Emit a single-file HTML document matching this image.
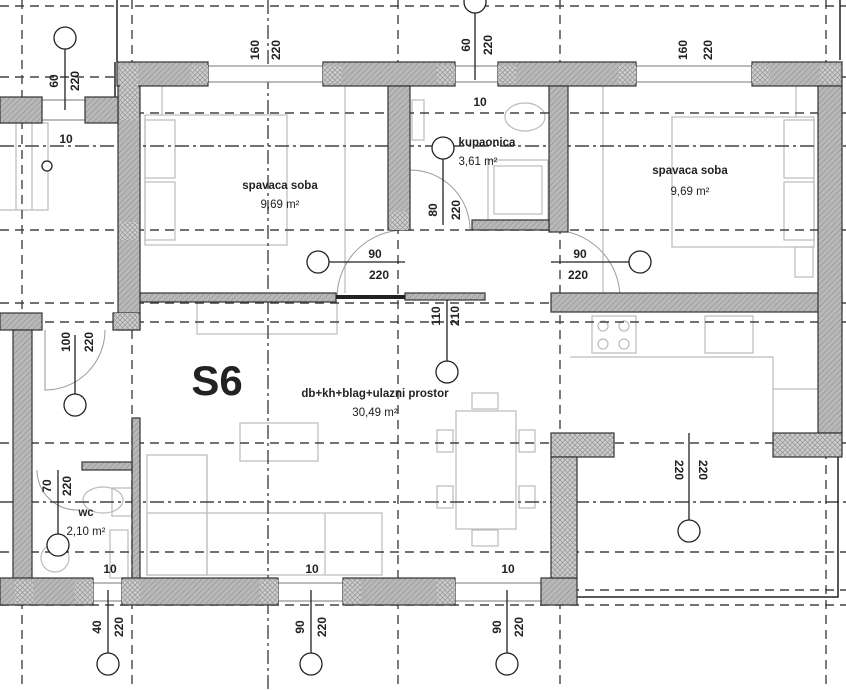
<!DOCTYPE html>
<html><head><meta charset="utf-8"><style>
html,body{margin:0;padding:0;background:#fff}
svg{display:block}
text{font-family:"Liberation Sans",sans-serif;fill:#222}
</style></head><body>
<svg width="846" height="690" viewBox="0 0 846 690" xmlns="http://www.w3.org/2000/svg">
<defs>
<pattern id="h" width="4" height="4" patternUnits="userSpaceOnUse" patternTransform="rotate(45)">
<rect width="4" height="4" fill="#b8b8b8"/><line x1="0" y1="0" x2="0" y2="4" stroke="#888" stroke-width="1"/></pattern>
<pattern id="x" width="5" height="5" patternUnits="userSpaceOnUse">
<rect width="5" height="5" fill="#d0d0d0"/><path d="M0 0L5 5M5 0L0 5" stroke="#999" stroke-width="0.8"/></pattern>
</defs>
<g fill="none" stroke="#bbb" stroke-width="1.2">
<rect x="145" y="115" width="142" height="130"/><rect x="145" y="120" width="30" height="58"/><rect x="145" y="182" width="30" height="58"/>
<rect x="672" y="117" width="142" height="130"/><rect x="784" y="120" width="30" height="58"/><rect x="784" y="182" width="30" height="58"/>
<rect x="795" y="247" width="18" height="30"/>
<line x1="162" y1="86" x2="162" y2="115"/><line x1="345" y1="86" x2="345" y2="293"/>
<line x1="603" y1="86" x2="603" y2="293"/><line x1="796" y1="86" x2="796" y2="117"/>
<rect x="488" y="160" width="60" height="60"/><rect x="494" y="166" width="48" height="48"/>
<ellipse cx="525" cy="117" rx="20" ry="14"/><rect x="412" y="100" width="12" height="40"/>
<rect x="197" y="302" width="140" height="32"/>
<rect x="592" y="316" width="44" height="37"/><circle cx="603" cy="326" r="5"/><circle cx="624" cy="326" r="5"/><circle cx="603" cy="344" r="5"/><circle cx="624" cy="344" r="5"/>
<rect x="705" y="316" width="48" height="37"/>
<path d="M570 357H773V433M773 389H818"/>
<rect x="240" y="423" width="78" height="38"/>
<rect x="147" y="455" width="60" height="120"/><rect x="147" y="513" width="235" height="62"/><line x1="207" y1="455" x2="207" y2="575"/><line x1="325" y1="513" x2="325" y2="575"/>
<rect x="456" y="411" width="60" height="118"/>
<rect x="472" y="393" width="26" height="16"/><rect x="472" y="530" width="26" height="16"/>
<rect x="437" y="430" width="16" height="22"/><rect x="437" y="486" width="16" height="22"/><rect x="519" y="430" width="16" height="22"/><rect x="519" y="486" width="16" height="22"/>
<ellipse cx="103" cy="500" rx="20" ry="13"/><rect x="112" y="488" width="20" height="28"/>
<rect x="110" y="530" width="18" height="48"/><circle cx="55" cy="558" r="14"/>
<path d="M0 123H48V210H0M16 123V210M32 123V210"/>
</g>
<g fill="none" stroke="#999" stroke-width="1">
<path d="M405 230A68 68 0 0 0 337 297"/><path d="M552 230A68 68 0 0 1 620 297"/>
<path d="M410 170A60 60 0 0 1 470 230"/><path d="M45 330V390A60 60 0 0 0 105 330"/>
<path d="M37 470A40 40 0 0 0 78 510"/>
</g>
<g stroke="#444" stroke-width="1.4" stroke-dasharray="9,6" fill="none">
<line x1="22" y1="0" x2="22" y2="690"/><line x1="132" y1="0" x2="132" y2="690"/>
<line x1="268" y1="0" x2="268" y2="690" stroke-dasharray="14,4,3,4"/>
<line x1="398" y1="0" x2="398" y2="690"/><line x1="560" y1="0" x2="560" y2="690"/>
<line x1="826" y1="0" x2="826" y2="690"/>
<line x1="0" y1="77" x2="846" y2="77"/><line x1="0" y1="113" x2="846" y2="113"/>
<line x1="0" y1="146" x2="846" y2="146" stroke-dasharray="14,4,3,4"/>
<line x1="0" y1="230" x2="846" y2="230"/><line x1="0" y1="303" x2="846" y2="303"/>
<line x1="0" y1="322" x2="846" y2="322"/><line x1="0" y1="443" x2="846" y2="443"/>
<line x1="0" y1="502" x2="846" y2="502" stroke-dasharray="14,4,3,4"/>
<line x1="0" y1="552" x2="846" y2="552"/><line x1="0" y1="590" x2="846" y2="590"/>
<line x1="0" y1="605" x2="846" y2="605"/><line x1="0" y1="6" x2="846" y2="6"/>
</g>
<g stroke="#222" stroke-width="1.5" fill="none">
<path d="M117 0V62M115 62V97"/><line x1="840" y1="0" x2="840" y2="60"/>
<path d="M577 597H838V457"/>
</g>
<g fill="#fff" stroke="#777" stroke-width="1">
<rect x="208" y="66" width="115" height="16"/><rect x="455" y="66" width="43" height="16"/><rect x="636" y="66" width="116" height="16"/>
<rect x="42" y="100" width="43" height="20"/>
<rect x="93" y="583" width="29" height="18"/><rect x="278" y="583" width="65" height="18"/><rect x="455" y="583" width="86" height="18"/>
</g>
<g fill="url(#h)" stroke="#333" stroke-width="1.2">
<rect x="117" y="62" width="91" height="24"/><rect x="323" y="62" width="132" height="24"/>
<rect x="498" y="62" width="138" height="24"/><rect x="752" y="62" width="90" height="24"/>
<rect x="118" y="86" width="22" height="244"/>
<rect x="0" y="97" width="42" height="26"/><rect x="85" y="97" width="33" height="26"/>
<rect x="140" y="293" width="196" height="9"/>
<rect x="388" y="86" width="22" height="144"/><rect x="549" y="86" width="19" height="146"/>
<rect x="472" y="220" width="77" height="10"/>
<rect x="551" y="293" width="291" height="19"/>
<rect x="405" y="293" width="80" height="7"/>
<rect x="818" y="86" width="24" height="347"/>
<rect x="0" y="313" width="42" height="17"/><rect x="113" y="313" width="27" height="17"/>
<rect x="13" y="330" width="19" height="250"/>
<rect x="132" y="418" width="8" height="162"/><rect x="82" y="462" width="50" height="8"/>
<rect x="0" y="578" width="93" height="27"/><rect x="122" y="578" width="156" height="27"/>
<rect x="343" y="578" width="112" height="27"/><rect x="541" y="578" width="36" height="27"/>
</g>
<g fill="url(#x)" stroke="#333" stroke-width="1.2">
<rect x="551" y="433" width="63" height="24"/><rect x="551" y="457" width="26" height="121"/>
<rect x="773" y="433" width="69" height="24"/>
<rect x="190" y="65" width="18" height="18" stroke="none"/><rect x="323" y="65" width="18" height="18" stroke="none"/>
<rect x="437" y="65" width="18" height="18" stroke="none"/><rect x="498" y="65" width="18" height="18" stroke="none"/>
<rect x="618" y="65" width="18" height="18" stroke="none"/><rect x="752" y="65" width="18" height="18" stroke="none"/>
<rect x="120" y="65" width="18" height="55" stroke="none"/><rect x="120" y="222" width="18" height="18" stroke="none"/>
<rect x="115" y="313" width="23" height="16" stroke="none"/><rect x="390" y="212" width="18" height="18" stroke="none"/>
<rect x="820" y="65" width="20" height="18" stroke="none"/>
<rect x="15" y="580" width="18" height="23" stroke="none"/><rect x="75" y="580" width="18" height="23" stroke="none"/>
<rect x="122" y="580" width="18" height="23" stroke="none"/><rect x="260" y="580" width="18" height="23" stroke="none"/>
<rect x="343" y="580" width="18" height="23" stroke="none"/><rect x="437" y="580" width="18" height="23" stroke="none"/>
</g>
<line x1="336" y1="297" x2="405" y2="297" stroke="#222" stroke-width="4"/>
<g stroke="#222" stroke-width="1.3" fill="#fff">
<path d="M65 49V110M475 10V80M329 262H405M551 262H629M443 159V225M447 300V345M75 394V335M58 534V470M108 653V590M311 653V590M507 653V590M689 520V433M447 361V335"/>
<circle cx="65" cy="38" r="11"/><circle cx="475" cy="2" r="11"/><circle cx="318" cy="262" r="11"/>
<circle cx="640" cy="262" r="11"/><circle cx="443" cy="148" r="11"/><circle cx="75" cy="405" r="11"/>
<circle cx="58" cy="545" r="11"/><circle cx="108" cy="664" r="11"/><circle cx="311" cy="664" r="11"/>
<circle cx="507" cy="664" r="11"/><circle cx="689" cy="531" r="11"/><circle cx="447" cy="372" r="11"/>
<circle cx="47" cy="166" r="5"/>
</g>
<g font-size="12" font-weight="bold">
<text x="66" y="143" text-anchor="middle">10</text><text x="480" y="106" text-anchor="middle">10</text>
<text x="375" y="258" text-anchor="middle">90</text><text x="379" y="279" text-anchor="middle">220</text>
<text x="580" y="258" text-anchor="middle">90</text><text x="578" y="279" text-anchor="middle">220</text>
<text x="110" y="573" text-anchor="middle">10</text><text x="312" y="573" text-anchor="middle">10</text><text x="508" y="573" text-anchor="middle">10</text>
<g text-anchor="middle">
<text transform="translate(58,81) rotate(-90)">60</text><text transform="translate(79,81) rotate(-90)">220</text>
<text transform="translate(259,50) rotate(-90)">160</text><text transform="translate(280,50) rotate(-90)">220</text>
<text transform="translate(470,45) rotate(-90)">60</text><text transform="translate(492,45) rotate(-90)">220</text>
<text transform="translate(687,50) rotate(-90)">160</text><text transform="translate(712,50) rotate(-90)">220</text>
<text transform="translate(70,342) rotate(-90)">100</text><text transform="translate(93,342) rotate(-90)">220</text>
<text transform="translate(437,210) rotate(-90)">80</text><text transform="translate(460,210) rotate(-90)">220</text>
<text transform="translate(440,316) rotate(-90)">110</text><text transform="translate(459,316) rotate(-90)">210</text>
<text transform="translate(51,486) rotate(-90)">70</text><text transform="translate(71,486) rotate(-90)">220</text>
<text transform="translate(101,627) rotate(-90)">40</text><text transform="translate(123,627) rotate(-90)">220</text>
<text transform="translate(304,627) rotate(-90)">90</text><text transform="translate(326,627) rotate(-90)">220</text>
<text transform="translate(501,627) rotate(-90)">90</text><text transform="translate(523,627) rotate(-90)">220</text>
<text transform="translate(675,470) rotate(90)">220</text><text transform="translate(699,470) rotate(90)">220</text>
</g>
</g>
<g font-size="11.5" text-anchor="middle">
<text x="280" y="189" font-weight="bold" fill="#333">spavaca soba</text><text x="280" y="208" fill="#555">9,69 m²</text>
<text x="690" y="174" font-weight="bold" fill="#333">spavaca soba</text><text x="690" y="195" fill="#555">9,69 m²</text>
<text x="487" y="146" font-weight="bold" fill="#333">kupaonica</text><text x="478" y="165" fill="#555">3,61 m²</text>
<text x="375" y="397" font-weight="bold" fill="#333">db+kh+blag+ulazni prostor</text><text x="375" y="416" fill="#555">30,49 m²</text>
<text x="86" y="516" font-weight="bold" fill="#333">wc</text><text x="86" y="535" fill="#555">2,10 m²</text>
</g>
<text x="217" y="395" font-size="42" font-weight="bold" text-anchor="middle" fill="#111">S6</text>
</svg>
</body></html>
